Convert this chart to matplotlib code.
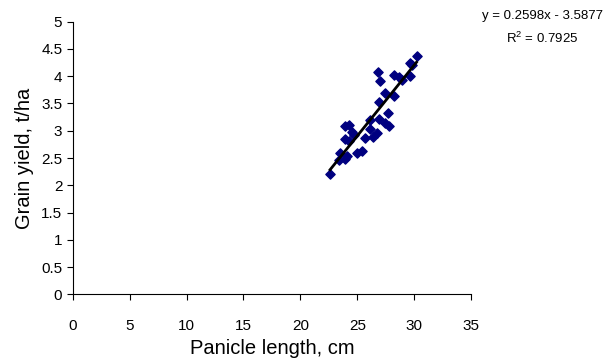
import matplotlib
matplotlib.use('Agg')

import matplotlib.pyplot as plt
import numpy as np

# panicle length (cm) and grain yield (t/ha)
length = [22.6, 30.2, 29.6, 29.8, 29.6, 26.8, 27.0, 28.2, 28.7, 28.9,
          27.4, 28.2, 26.9, 27.7, 26.1, 26.9, 27.4, 27.8, 26.1, 26.7,
          26.4, 25.7, 23.9, 24.3, 24.5, 24.7, 23.9, 24.3, 25.0, 25.4,
          23.5, 23.9, 24.1, 23.4]
grain = [2.21, 4.37, 4.24, 4.21, 4.00, 4.08, 3.92, 4.02, 3.99, 3.94,
         3.69, 3.64, 3.52, 3.32, 3.19, 3.21, 3.15, 3.08, 3.03, 2.95,
         2.89, 2.86, 3.09, 3.11, 2.98, 2.92, 2.84, 2.82, 2.59, 2.62,
         2.60, 2.49, 2.54, 2.46]

slope = 0.2598
intercept = -3.5877
r2 = 0.7925

plt.rcParams['font.family'] = ['Liberation Sans', 'DejaVu Sans']

fig = plt.figure(figsize=(6.08, 3.62), dpi=100)
ax = fig.add_axes([0.1196, 0.187, 0.6554, 0.753])

ax.scatter(length, grain, marker='D', s=22, color='#000080', zorder=3)
xs = np.array([min(length), max(length)])
ax.plot(xs, slope * xs + intercept, color='black', linewidth=2, zorder=4)

ax.set_xlim(0, 35)
ax.set_ylim(0, 5)
ax.set_xticks(np.arange(0, 36, 5))
ax.set_yticks(np.arange(0, 5.01, 0.5))
ax.set_yticklabels(['0', '0.5', '1', '1.5', '2', '2.5', '3', '3.5', '4', '4.5', '5'])
ax.tick_params(labelsize=11, length=4, width=0.8)
ax.tick_params(axis='x', pad=14)
ax.spines['top'].set_visible(False)
ax.spines['right'].set_visible(False)

ax.set_xlabel('Panicle length, cm', fontsize=14.5, labelpad=4)
ax.set_ylabel('Grain yield, t/ha', fontsize=14.5, labelpad=5)

fig.text(0.892, 0.957, 'y = 0.2598x - 3.5877', ha='center', va='center', fontsize=9.5)
fig.text(0.892, 0.895, '$\\mathregular{R^2}$ = 0.7925', ha='center', va='center', fontsize=9.5)

fig.savefig('out.png', facecolor='white')
